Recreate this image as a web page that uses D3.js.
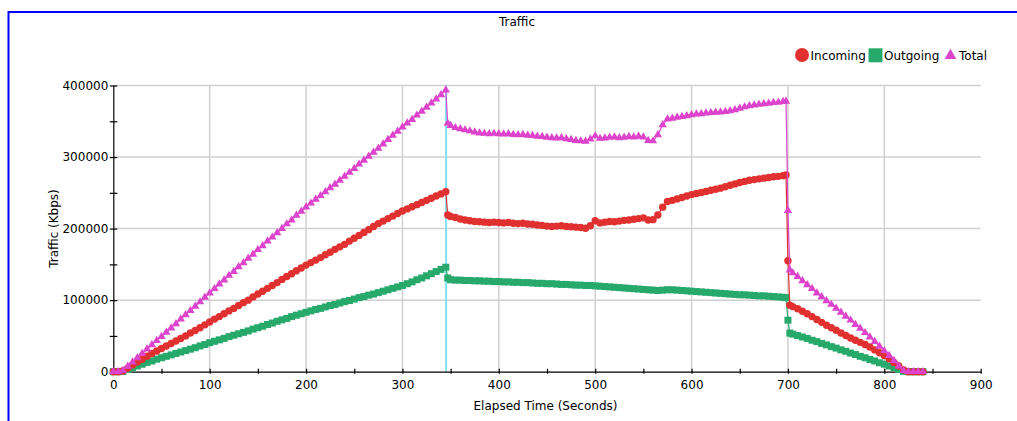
<!DOCTYPE html>
<html>
<head>
<meta charset="utf-8">
<script src="https://cdn.jsdelivr.net/npm/d3@7"></script>
<style>
  html, body { margin: 0; padding: 0; background: #ffffff; }
  svg { display: block; font-family: "DejaVu Sans", Verdana, sans-serif; }
</style>
</head>
<body>
<script>
// Sample times (seconds) and traffic readings (Kbps) for each series.
const times = [
  0, 5, 10, 15, 20, 25, 30, 35, 40, 45,
  50, 55, 60, 65, 70, 75, 80, 85, 90, 95,
  100, 105, 110, 115, 120, 125, 130, 135, 140, 145,
  150, 155, 160, 165, 170, 175, 180, 185, 190, 195,
  200, 205, 210, 215, 220, 225, 230, 235, 240, 245,
  250, 255, 260, 265, 270, 275, 280, 285, 290, 295,
  300, 305, 310, 315, 320, 325, 330, 335, 340, 345,
  347, 350, 355, 360, 365, 370, 375, 380, 385, 390,
  395, 400, 405, 410, 415, 420, 425, 430, 435, 440,
  445, 450, 455, 460, 465, 470, 475, 480, 485, 490,
  495, 500, 505, 510, 515, 520, 525, 530, 535, 540,
  545, 550, 555, 560, 565, 570, 575, 580, 585, 590,
  595, 600, 605, 610, 615, 620, 625, 630, 635, 640,
  645, 650, 655, 660, 665, 670, 675, 680, 685, 690,
  695, 698, 700, 702, 705, 710, 715, 720, 725, 730,
  735, 740, 745, 750, 755, 760, 765, 770, 775, 780,
  785, 790, 795, 800, 805, 810, 815, 820, 825, 830,
  835, 840
];

const incoming = [
  0, 0, 1000, 5000, 9500, 13500, 17500, 21500, 25500, 29000,
  32500, 36000, 39500, 43000, 46500, 50000, 54000, 57500, 61500, 65500,
  69500, 73500, 77000, 81000, 85000, 88500, 92500, 96500, 100000, 104500,
  108500, 112500, 116500, 120500, 124500, 129000, 133000, 137000, 141000, 145000,
  149000, 152500, 156000, 159500, 163500, 167000, 171000, 174500, 178000, 182500,
  186500, 190500, 194500, 198500, 203000, 207000, 210500, 214000, 217500, 221000,
  224500, 227500, 230500, 233500, 236500, 239500, 242500, 245500, 248500, 251500,
  219000, 217000, 215500, 213500, 212000, 211000, 210000, 209500, 209000, 208500,
  209000, 208500, 208000, 208500, 207500, 207000, 207500, 206500, 206000, 205000,
  204500, 203500, 203000, 203500, 204000, 203000, 202500, 202000, 201500, 200500,
  204000, 211000, 208000, 209000, 210000, 209500, 210500, 211500, 212000, 213000,
  214000, 215000, 212000, 212500, 219000, 230000, 238000, 239500, 241500, 243500,
  245500, 247500, 249000, 250500, 252000, 253500, 255000, 256500, 258500, 260500,
  262500, 264500, 266000, 267500, 268500, 269500, 270500, 271500, 272500, 273000,
  274000, 275000, 155000, 93000, 91000, 88000, 84500, 81000, 77000, 73000,
  69000, 65000, 61500, 58000, 54000, 50500, 47000, 44000, 41000, 38000,
  34500, 30500, 26500, 22500, 18000, 13000, 8000, 2500, 0, 0,
  0, 0
];

const outgoing = [
  0, 0, 500, 3000, 5500, 8000, 10500, 13000, 15000, 17500,
  19500, 21500, 23500, 25500, 27500, 29500, 31500, 33500, 36000, 38000,
  40500, 42500, 44500, 46500, 49000, 51000, 53000, 55000, 57000, 59500,
  61500, 63500, 66000, 68000, 70500, 72500, 74500, 77000, 79000, 81000,
  83000, 85000, 87000, 88500, 90500, 92500, 94000, 96000, 98000, 99500,
  101500, 103500, 105000, 107000, 108500, 110500, 112500, 114500, 116500, 118500,
  120500, 123000, 125500, 128500, 131000, 134000, 137000, 140000, 143000, 146000,
  131000, 128500, 128000, 128000, 127500, 127500, 127000, 127000, 126500, 126500,
  126000, 126000, 125500, 125500, 125000, 125000, 124500, 124500, 124000, 123500,
  123500, 123000, 123000, 122500, 122000, 122000, 121500, 121000, 121000, 120500,
  120500, 120000, 119500, 119000, 118500, 118000, 117500, 117000, 116500, 116000,
  115500, 115000, 114500, 114000, 113500, 114000, 114500, 114500, 114000, 113500,
  113000, 112500, 112000, 111500, 111000, 110500, 110000, 109500, 109000, 108500,
  108000, 107500, 107500, 107000, 106500, 106000, 106000, 105500, 105000, 104500,
  104000, 103500, 72000, 54000, 52500, 50500, 48500, 46500, 44000, 42000,
  39500, 37500, 35000, 33000, 30500, 28500, 26000, 24000, 21500, 19500,
  17000, 15000, 12500, 10500, 8000, 5500, 3000, 500, 0, 0,
  0, 0
];

const total = [
  0, 0, 1500, 7500, 13500, 19500, 25500, 31500, 37500, 43500,
  49000, 55000, 61000, 67000, 73500, 79500, 85500, 91500, 97500, 104000,
  110000, 116000, 122500, 128000, 134500, 140000, 146500, 152000, 158500, 164000,
  170500, 176000, 182500, 188000, 194000, 200000, 206500, 212000, 218500, 224000,
  230000, 235500, 241000, 246000, 251500, 257000, 262000, 267500, 273000, 278500,
  284000, 290000, 295500, 301000, 306500, 312000, 318000, 324500, 330500, 336000,
  342000, 347500, 352500, 358500, 364000, 369500, 375500, 381000, 387000, 393500,
  347000, 344000, 341000, 339500, 338000, 336500, 335000, 333500, 333000, 332500,
  333000, 332500, 332000, 332500, 331500, 331000, 331500, 330500, 330000, 329000,
  328500, 327500, 327000, 326500, 327000, 325500, 324500, 323000, 322500, 322000,
  325000, 329500, 326000, 326500, 327500, 328000, 327000, 327500, 328500, 328000,
  329000, 328000, 323000, 322500, 331000, 345000, 353000, 354000, 355500, 356500,
  357500, 359000, 360000, 360500, 361500, 362000, 362500, 363000, 363500, 364500,
  366000, 368000, 370000, 371500, 372500, 373500, 374500, 375000, 376000, 376500,
  377500, 378000, 225000, 142000, 138000, 133000, 127000, 121500, 116000, 110000,
  104500, 99000, 94000, 88500, 83000, 77500, 72000, 66000, 60500, 54500,
  48500, 42000, 35500, 29000, 22500, 15500, 8000, 1500, 0, 0,
  0, 0
];

// Time cursor line
const cursorTimes = [345.3];

// Axis tick values
const xMajorTicks = [0, 100, 200, 300, 400, 500, 600, 700, 800, 900];
const xMinorTicks = [50, 150, 250, 350, 450, 550, 650, 750, 850];
const xGridTicks = [100, 200, 300, 400, 500, 600, 700, 800];
const yMajorTicks = [0, 100000, 200000, 300000, 400000];
const yMinorTicks = [50000, 150000, 250000, 350000];
const yGridTicks = [100000, 200000, 300000, 400000];

const seriesNames = ["Incoming", "Outgoing", "Total"];

// ---- layout ----
const W = 1017, H = 421;
const COLORS = { Incoming: "#e0302f", Outgoing: "#27a96c", Total: "#dd44cc" };

const svg = d3.select("body").append("svg")
  .attr("width", W).attr("height", H);

svg.append("rect").attr("width", W).attr("height", H).attr("fill", "#ffffff");

// outer blue frame (runs off the right and bottom edges)
svg.append("rect")
  .attr("x", 8.5).attr("y", 12)
  .attr("width", 1200).attr("height", 600)
  .attr("fill", "none").attr("stroke", "#0000ff").attr("stroke-width", 2);

const x = d3.scaleLinear().domain([0, 900]).range([113.3, 980.7]);
const y = d3.scaleLinear().domain([0, 400000]).range([371.7, 85.5]);

// grid
const grid = svg.append("g").attr("stroke", "#d0d0d0").attr("stroke-width", 1.5);
grid.selectAll("line.v").data(xGridTicks).join("line")
  .attr("class", "v")
  .attr("x1", d => x(d)).attr("x2", d => x(d))
  .attr("y1", y(400000)).attr("y2", y(0));
grid.selectAll("line.h").data(yGridTicks).join("line")
  .attr("class", "h")
  .attr("x1", x(0)).attr("x2", x(900))
  .attr("y1", d => y(d)).attr("y2", d => y(d));

// cursor line
svg.append("g").selectAll("line").data(cursorTimes).join("line")
  .attr("x1", d => x(d)).attr("x2", d => x(d))
  .attr("y1", y(400000)).attr("y2", y(0))
  .attr("stroke", "#7fe3ef").attr("stroke-width", 2);

// axes
function styleAxis(g) {
  g.selectAll("path.domain").attr("stroke", "#000").attr("stroke-width", 1.2);
  g.selectAll(".tick line").attr("stroke", "#000").attr("stroke-width", 1.2);
  g.selectAll(".tick text").attr("fill", "#000")
    .style("font-family", "'DejaVu Sans', Verdana, sans-serif").style("font-size", "12px");
}

const yAxisG = svg.append("g").attr("transform", `translate(${x(0)},0)`)
  .call(d3.axisLeft(y).tickValues(yMajorTicks).tickFormat(d3.format("d"))
    .tickSizeInner(3.5).tickSizeOuter(0).tickPadding(5));
yAxisG.selectAll(".tick line").attr("x1", 4);
yAxisG.selectAll(".tick text").attr("x", -5);
styleAxis(yAxisG);

const yMinorG = svg.append("g").attr("transform", `translate(${x(0)},0)`)
  .call(d3.axisLeft(y).tickValues(yMinorTicks).tickFormat("").tickSizeInner(3.5).tickSizeOuter(0));
yMinorG.select("path.domain").remove();
yMinorG.selectAll(".tick line").attr("x1", 4);
styleAxis(yMinorG);

const xAxisG = svg.append("g").attr("transform", `translate(0,${y(0)})`)
  .call(d3.axisBottom(x).tickValues(xMajorTicks).tickFormat(d3.format("d"))
    .tickSizeInner(2).tickSizeOuter(0));
xAxisG.selectAll(".tick line").attr("y1", -3);
xAxisG.selectAll(".tick text").attr("y", 9);
styleAxis(xAxisG);

const xMinorG = svg.append("g").attr("transform", `translate(0,${y(0)})`)
  .call(d3.axisBottom(x).tickValues(xMinorTicks).tickFormat("").tickSizeInner(2).tickSizeOuter(0));
xMinorG.select("path.domain").remove();
xMinorG.selectAll(".tick line").attr("y1", -3);
styleAxis(xMinorG);

// titles
svg.append("text").attr("x", 517).attr("y", 25.5).attr("text-anchor", "middle")
  .attr("font-size", 12).attr("fill", "#000").text("Traffic");
svg.append("text").attr("x", 545.5).attr("y", 410).attr("text-anchor", "middle")
  .attr("font-size", 12).attr("fill", "#000").text("Elapsed Time (Seconds)");
svg.append("text").attr("transform", "translate(57.7,228.5) rotate(-90)")
  .attr("text-anchor", "middle").attr("font-size", 12).attr("fill", "#000")
  .text("Traffic (Kbps)");

// series
const seriesData = {
  Incoming: times.map((t, i) => ({ t, v: incoming[i] })),
  Outgoing: times.map((t, i) => ({ t, v: outgoing[i] })),
  Total: times.map((t, i) => ({ t, v: total[i] }))
};

const line = d3.line().x(d => x(d.t)).y(d => y(d.v));
const triangle = d3.symbol().type(d3.symbolTriangle).size(30);

function drawSeries(name) {
  const g = svg.append("g");
  const data = seriesData[name];
  const c = COLORS[name];
  g.append("path").datum(data).attr("d", line)
    .attr("fill", "none").attr("stroke", c).attr("stroke-width", 1.2);
  if (name === "Incoming") {
    g.selectAll("circle").data(data).join("circle")
      .attr("cx", d => x(d.t)).attr("cy", d => y(d.v)).attr("r", 3.7).attr("fill", c);
  } else if (name === "Outgoing") {
    g.selectAll("rect").data(data).join("rect")
      .attr("x", d => x(d.t) - 3.5).attr("y", d => y(d.v) - 3.5)
      .attr("width", 7).attr("height", 7).attr("fill", c);
  } else {
    g.selectAll("path.m").data(data).join("path").attr("class", "m")
      .attr("d", triangle)
      .attr("transform", d => `translate(${x(d.t)},${y(d.v)})`).attr("fill", c);
  }
}
// outgoing underneath, total on top
["Outgoing", "Incoming", "Total"].forEach(drawSeries);

// legend
const legend = svg.append("g").attr("font-size", 12).attr("fill", "#000");
const legendItems = [
  { name: seriesNames[0], mx: 802, tx: 810.5 },
  { name: seriesNames[1], mx: 875.5, tx: 884 },
  { name: seriesNames[2], mx: 950.5, tx: 959 }
];
legendItems.forEach(item => {
  const c = COLORS[item.name];
  if (item.name === "Incoming") {
    legend.append("circle").attr("cx", item.mx).attr("cy", 55).attr("r", 7).attr("fill", c);
  } else if (item.name === "Outgoing") {
    legend.append("rect").attr("x", item.mx - 7).attr("y", 48.3)
      .attr("width", 14).attr("height", 14).attr("fill", c);
  } else {
    legend.append("path")
      .attr("d", d3.symbol().type(d3.symbolTriangle).size(60))
      .attr("transform", `translate(${item.mx},55.5)`).attr("fill", c);
  }
  legend.append("text").attr("x", item.tx).attr("y", 59.5).attr("fill", "#000").text(item.name);
});
</script>
</body>
</html>
